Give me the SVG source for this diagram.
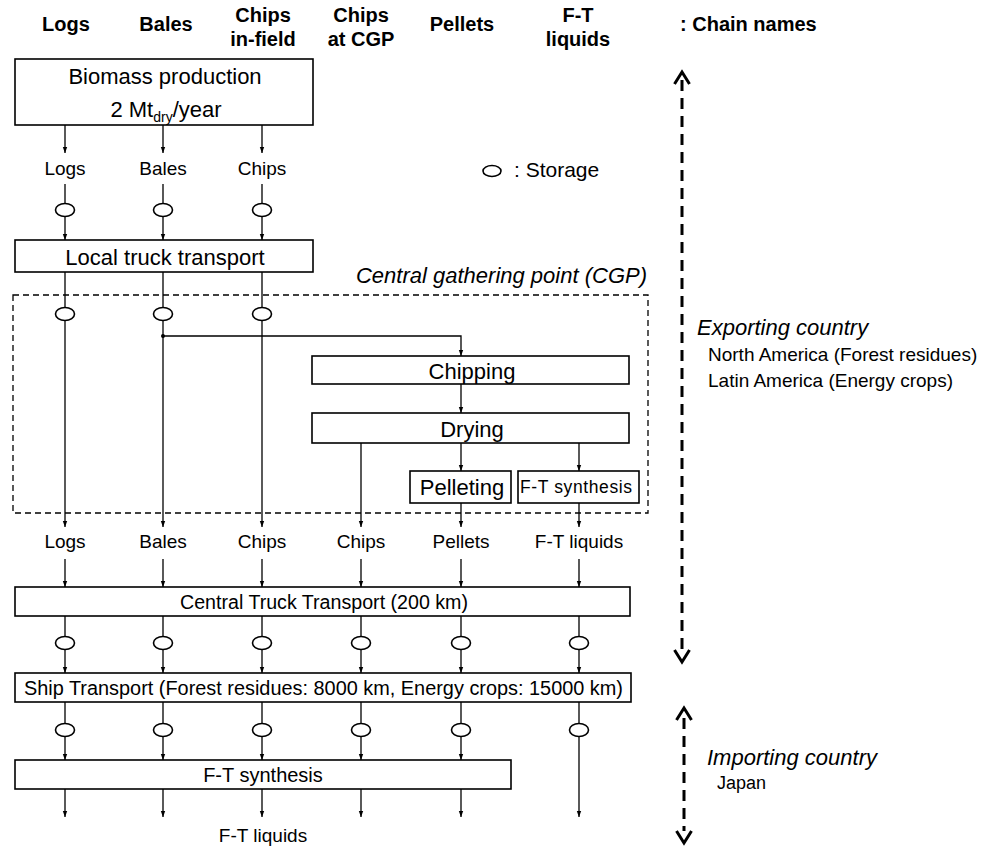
<svg xmlns="http://www.w3.org/2000/svg" width="992" height="848" viewBox="0 0 992 848">
<style>
text{font-family:"Liberation Sans",Arial,Helvetica,sans-serif;fill:#000}
.hd{font-size:20px;font-weight:bold;text-anchor:middle}
.lb{font-size:19px;text-anchor:middle}
.bx{font-size:22px;text-anchor:middle}
.it{font-style:italic;font-size:22px}
.box{fill:#fff;stroke:#000;stroke-width:1.6}
.st{fill:#fff;stroke:#000;stroke-width:1.6}
.ln{fill:none;stroke:#000;stroke-width:1.3}
.ar{fill:none;stroke:#000;stroke-width:1.3;marker-end:url(#ah)}
.big{fill:none;stroke:#000;stroke-width:3;stroke-dasharray:11 7}
.chev{fill:none;stroke:#000;stroke-width:3;stroke-linejoin:miter}
</style>
<defs>
<marker id="ah" markerUnits="userSpaceOnUse" markerWidth="6" markerHeight="6" viewBox="0 0 6 6" refX="6" refY="3" orient="auto">
<path d="M0,0.8 L6,3 L0,5.2 z" fill="#000"/>
</marker>
</defs>
<rect width="992" height="848" fill="#fff"/>

<g id="headers">
<text class="hd" x="66" y="31">Logs</text>
<text class="hd" x="166" y="31">Bales</text>
<text class="hd" x="263" y="22">Chips</text>
<text class="hd" x="263" y="46">in-field</text>
<text class="hd" x="361" y="22">Chips</text>
<text class="hd" x="361" y="46">at CGP</text>
<text class="hd" x="462" y="31">Pellets</text>
<text class="hd" x="578" y="22">F-T</text>
<text class="hd" x="578" y="46">liquids</text>
<text class="hd" x="680" y="31" style="text-anchor:start">: Chain names</text>
</g>

<g id="cgp">
<rect x="13" y="295" width="635" height="218" fill="none" stroke="#000" stroke-width="1.3" stroke-dasharray="6 4"/>
<text class="it" x="647" y="283" text-anchor="end">Central gathering point (CGP)</text>
</g>

<g id="connectors">
<line class="ar" x1="65" y1="125" x2="65" y2="153"/>
<line class="ar" x1="163" y1="125" x2="163" y2="153"/>
<line class="ar" x1="262" y1="125" x2="262" y2="153"/>
<path class="ln" d="M65,184V203.5M163,184V203.5M262,184V203.5"/>
<line class="ar" x1="65" y1="216.5" x2="65" y2="240"/>
<line class="ar" x1="163" y1="216.5" x2="163" y2="240"/>
<line class="ar" x1="262" y1="216.5" x2="262" y2="240"/>
<path class="ln" d="M65,272V307.5M163,272V307.5M262,272V307.5"/>
<line class="ar" x1="65" y1="320.5" x2="65" y2="527"/>
<line class="ar" x1="163" y1="320.5" x2="163" y2="527"/>
<line class="ar" x1="262" y1="320.5" x2="262" y2="527"/>
<path class="ar" d="M163,336H461V356"/>
<circle cx="163" cy="336" r="2" fill="#000"/>
<line class="ar" x1="461" y1="384" x2="461" y2="413"/>
<line class="ar" x1="361" y1="443" x2="361" y2="527"/>
<line class="ar" x1="461" y1="443" x2="461" y2="471"/>
<line class="ar" x1="579" y1="443" x2="579" y2="471"/>
<line class="ar" x1="461" y1="503" x2="461" y2="527"/>
<line class="ar" x1="579" y1="503" x2="579" y2="527"/>
<line class="ar" x1="65" y1="559" x2="65" y2="587"/>
<line class="ar" x1="163" y1="559" x2="163" y2="587"/>
<line class="ar" x1="262" y1="559" x2="262" y2="587"/>
<line class="ar" x1="361" y1="559" x2="361" y2="587"/>
<line class="ar" x1="461" y1="559" x2="461" y2="587"/>
<line class="ar" x1="579" y1="559" x2="579" y2="587"/>
<path class="ln" d="M65,616V636.5M163,616V636.5M262,616V636.5M361,616V636.5M461,616V636.5M579,616V636.5"/>
<line class="ar" x1="65" y1="649.5" x2="65" y2="673"/>
<line class="ar" x1="163" y1="649.5" x2="163" y2="673"/>
<line class="ar" x1="262" y1="649.5" x2="262" y2="673"/>
<line class="ar" x1="361" y1="649.5" x2="361" y2="673"/>
<line class="ar" x1="461" y1="649.5" x2="461" y2="673"/>
<line class="ar" x1="579" y1="649.5" x2="579" y2="673"/>
<path class="ln" d="M65,702V723.5M163,702V723.5M262,702V723.5M361,702V723.5M461,702V723.5M579,702V723.5"/>
<line class="ar" x1="65" y1="736.5" x2="65" y2="760"/>
<line class="ar" x1="163" y1="736.5" x2="163" y2="760"/>
<line class="ar" x1="262" y1="736.5" x2="262" y2="760"/>
<line class="ar" x1="361" y1="736.5" x2="361" y2="760"/>
<line class="ar" x1="461" y1="736.5" x2="461" y2="760"/>
<line class="ar" x1="579" y1="736.5" x2="579" y2="817"/>
<line class="ar" x1="65" y1="789" x2="65" y2="817"/>
<line class="ar" x1="163" y1="789" x2="163" y2="817"/>
<line class="ar" x1="262" y1="789" x2="262" y2="817"/>
<line class="ar" x1="361" y1="789" x2="361" y2="817"/>
<line class="ar" x1="461" y1="789" x2="461" y2="817"/>
</g>

<g id="biomass-production">
<rect class="box" x="15" y="59" width="298" height="66"/>
<text class="bx" x="165" y="84">Biomass production</text>
<text class="bx" x="166" y="117">2 Mt<tspan font-size="14" dy="5">dry</tspan><tspan dy="-5">/year</tspan></text>
</g>

<g id="labels-1">
<text class="lb" x="65" y="175">Logs</text>
<text class="lb" x="163" y="175">Bales</text>
<text class="lb" x="262" y="175">Chips</text>
</g>

<g id="storage-legend">
<ellipse class="st" cx="492" cy="171" rx="9" ry="5.5" stroke-width="1.3"/>
<text x="514" y="177" font-size="21">: Storage</text>
</g>

<g id="storage-1">
<ellipse class="st" cx="65" cy="210" rx="9.5" ry="6.5"/>
<ellipse class="st" cx="163" cy="210" rx="9.5" ry="6.5"/>
<ellipse class="st" cx="262" cy="210" rx="9.5" ry="6.5"/>
</g>

<g id="local-truck-transport">
<rect class="box" x="15" y="240" width="298" height="32"/>
<text class="bx" x="165" y="265">Local truck transport</text>
</g>

<g id="storage-2">
<ellipse class="st" cx="65" cy="314" rx="9.5" ry="6.5"/>
<ellipse class="st" cx="163" cy="314" rx="9.5" ry="6.5"/>
<ellipse class="st" cx="262" cy="314" rx="9.5" ry="6.5"/>
</g>

<g id="chipping">
<rect class="box" x="312" y="356" width="317" height="28"/>
<text class="bx" x="472" y="379">Chipping</text>
</g>

<g id="drying">
<rect class="box" x="312" y="413" width="317" height="30"/>
<text class="bx" x="472" y="437">Drying</text>
</g>

<g id="pelleting">
<rect class="box" x="410" y="471" width="101" height="32"/>
<text class="bx" x="462" y="495" font-size="21">Pelleting</text>
</g>

<g id="ft-synthesis-cgp">
<rect class="box" x="518" y="471" width="121" height="32"/>
<text x="520" y="493" font-size="17.5" textLength="112" lengthAdjust="spacing">F-T synthesis</text>
</g>

<g id="labels-2">
<text class="lb" x="65" y="548">Logs</text>
<text class="lb" x="163" y="548">Bales</text>
<text class="lb" x="262" y="548">Chips</text>
<text class="lb" x="361" y="548">Chips</text>
<text class="lb" x="461" y="548">Pellets</text>
<text class="lb" x="579" y="548">F-T liquids</text>
</g>

<g id="central-truck-transport">
<rect class="box" x="15" y="587" width="615" height="29"/>
<text x="180" y="609" font-size="20" textLength="288" lengthAdjust="spacingAndGlyphs">Central Truck Transport (200 km)</text>
</g>

<g id="storage-3">
<ellipse class="st" cx="65" cy="643" rx="9.5" ry="6.5"/>
<ellipse class="st" cx="163" cy="643" rx="9.5" ry="6.5"/>
<ellipse class="st" cx="262" cy="643" rx="9.5" ry="6.5"/>
<ellipse class="st" cx="361" cy="643" rx="9.5" ry="6.5"/>
<ellipse class="st" cx="461" cy="643" rx="9.5" ry="6.5"/>
<ellipse class="st" cx="579" cy="643" rx="9.5" ry="6.5"/>
</g>

<g id="ship-transport">
<rect class="box" x="15" y="673" width="616" height="29"/>
<text x="24" y="695" font-size="20" textLength="599" lengthAdjust="spacingAndGlyphs">Ship Transport (Forest residues: 8000 km, Energy crops: 15000 km)</text>
</g>

<g id="storage-4">
<ellipse class="st" cx="65" cy="730" rx="9.5" ry="6.5"/>
<ellipse class="st" cx="163" cy="730" rx="9.5" ry="6.5"/>
<ellipse class="st" cx="262" cy="730" rx="9.5" ry="6.5"/>
<ellipse class="st" cx="361" cy="730" rx="9.5" ry="6.5"/>
<ellipse class="st" cx="461" cy="730" rx="9.5" ry="6.5"/>
<ellipse class="st" cx="579" cy="730" rx="9.5" ry="6.5"/>
</g>

<g id="ft-synthesis">
<rect class="box" x="15" y="760" width="496" height="29"/>
<text x="263" y="782" font-size="20" text-anchor="middle">F-T synthesis</text>
</g>

<g id="ft-liquids">
<text class="lb" x="263" y="842">F-T liquids</text>
</g>

<g id="exporting-country">
<path class="big" d="M682,80V650"/>
<path class="chev" d="M674.5,84L682,72L689.5,84"/>
<path class="chev" d="M674.5,650L682,662L689.5,650"/>
<text class="it" x="697" y="335">Exporting country</text>
<text x="708" y="361" font-size="19">North America (Forest residues)</text>
<text x="708" y="387" font-size="19">Latin America (Energy crops)</text>
</g>

<g id="importing-country">
<path class="big" d="M684,718V831"/>
<path class="chev" d="M676.5,720L684,708L691.5,720"/>
<path class="chev" d="M676.5,831L684,843L691.5,831"/>
<text class="it" x="707" y="765">Importing country</text>
<text x="717" y="789" font-size="18">Japan</text>
</g>
</svg>
